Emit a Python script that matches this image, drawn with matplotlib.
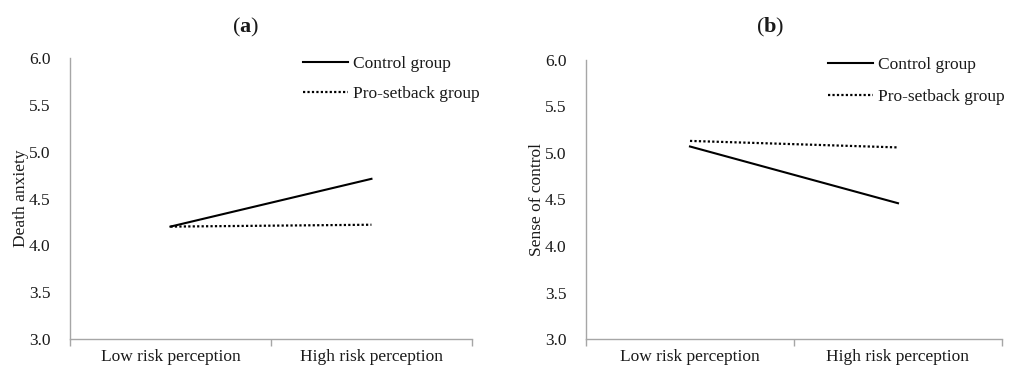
import matplotlib
matplotlib.use('Agg')
import matplotlib.pyplot as plt
from matplotlib.ticker import FixedLocator, NullFormatter, FixedFormatter

# simple slopes: two groups at low / high risk perception
categories = ['Low risk perception', 'High risk perception']
groups = ['Control group', 'Pro-setback group']
death_control = [4.20, 4.71]
death_setback = [4.20, 4.22]
sense_control = [5.07, 4.46]
sense_setback = [5.13, 5.06]
yticks = [3.0, 3.5, 4.0, 4.5, 5.0, 5.5, 6.0]

plt.rcParams['font.family'] = ['Liberation Serif', 'DejaVu Serif']
plt.rcParams['mathtext.fontset'] = 'custom'
plt.rcParams['mathtext.bf'] = 'Liberation Serif:bold'
plt.rcParams['mathtext.rm'] = 'Liberation Serif'

txtcol = '#1a1a1a'
spinecol = '#a6a6a6'
fs = 12.5

fig = plt.figure(figsize=(10.11, 3.69), dpi=100, facecolor='white')
ax_a = fig.add_axes([0.0692, 0.0813, 0.3976, 0.7615])
ax_b = fig.add_axes([0.5796, 0.0813, 0.4115, 0.7561])


def panel(ax, control, setback, ylabel, legx, legy, spacing):
    xpos = [0.5, 1.5]
    ax.plot(xpos, control, color='black', lw=1.5, ls='-', label=groups[0])
    ax.plot(xpos, setback, color='black', lw=1.6, ls=(0, (1, 1)), label=groups[1])
    ax.set_xlim(0, 2)
    ax.set_ylim(3.0, 6.0)
    ax.set_yticks(yticks)
    ax.set_yticklabels(['%.1f' % v for v in yticks])
    #
    ax.xaxis.set_major_locator(FixedLocator([0, 1, 2]))
    ax.xaxis.set_major_formatter(NullFormatter())
    ax.xaxis.set_minor_locator(FixedLocator(xpos))
    ax.xaxis.set_minor_formatter(FixedFormatter(categories))
    ax.tick_params(axis='x', which='major', length=5, width=1, color=spinecol, direction='out')
    ax.tick_params(axis='x', which='minor', length=0, pad=7, labelsize=fs, labelcolor=txtcol)
    ax.tick_params(axis='y', length=0, pad=14, labelsize=fs, labelcolor=txtcol)
    #
    for s in ['top', 'right']:
        ax.spines[s].set_visible(False)
    for s in ['left', 'bottom']:
        ax.spines[s].set_color(spinecol)
        ax.spines[s].set_linewidth(1.0)
    ax.set_ylabel(ylabel, fontsize=fs, color=txtcol, labelpad=0)
    ax.legend(loc='upper left', bbox_to_anchor=(legx, legy), frameon=False,
              fontsize=fs, handlelength=2.6, handletextpad=0.3,
              labelspacing=spacing, borderpad=0, borderaxespad=0,
              labelcolor=txtcol)


panel(ax_a, death_control, death_setback, 'Death anxiety', 0.58, 1.009, 0.8)
panel(ax_b, sense_control, sense_setback, 'Sense of control', 0.582, 1.01, 0.88)

fig.text(0.2425, 0.925, r'($\mathbf{a}$)', ha='center', va='center', fontsize=16, color=txtcol)
fig.text(0.7615, 0.925, r'($\mathbf{b}$)', ha='center', va='center', fontsize=16, color=txtcol)

fig.savefig('out.png', dpi=100, facecolor='white')
